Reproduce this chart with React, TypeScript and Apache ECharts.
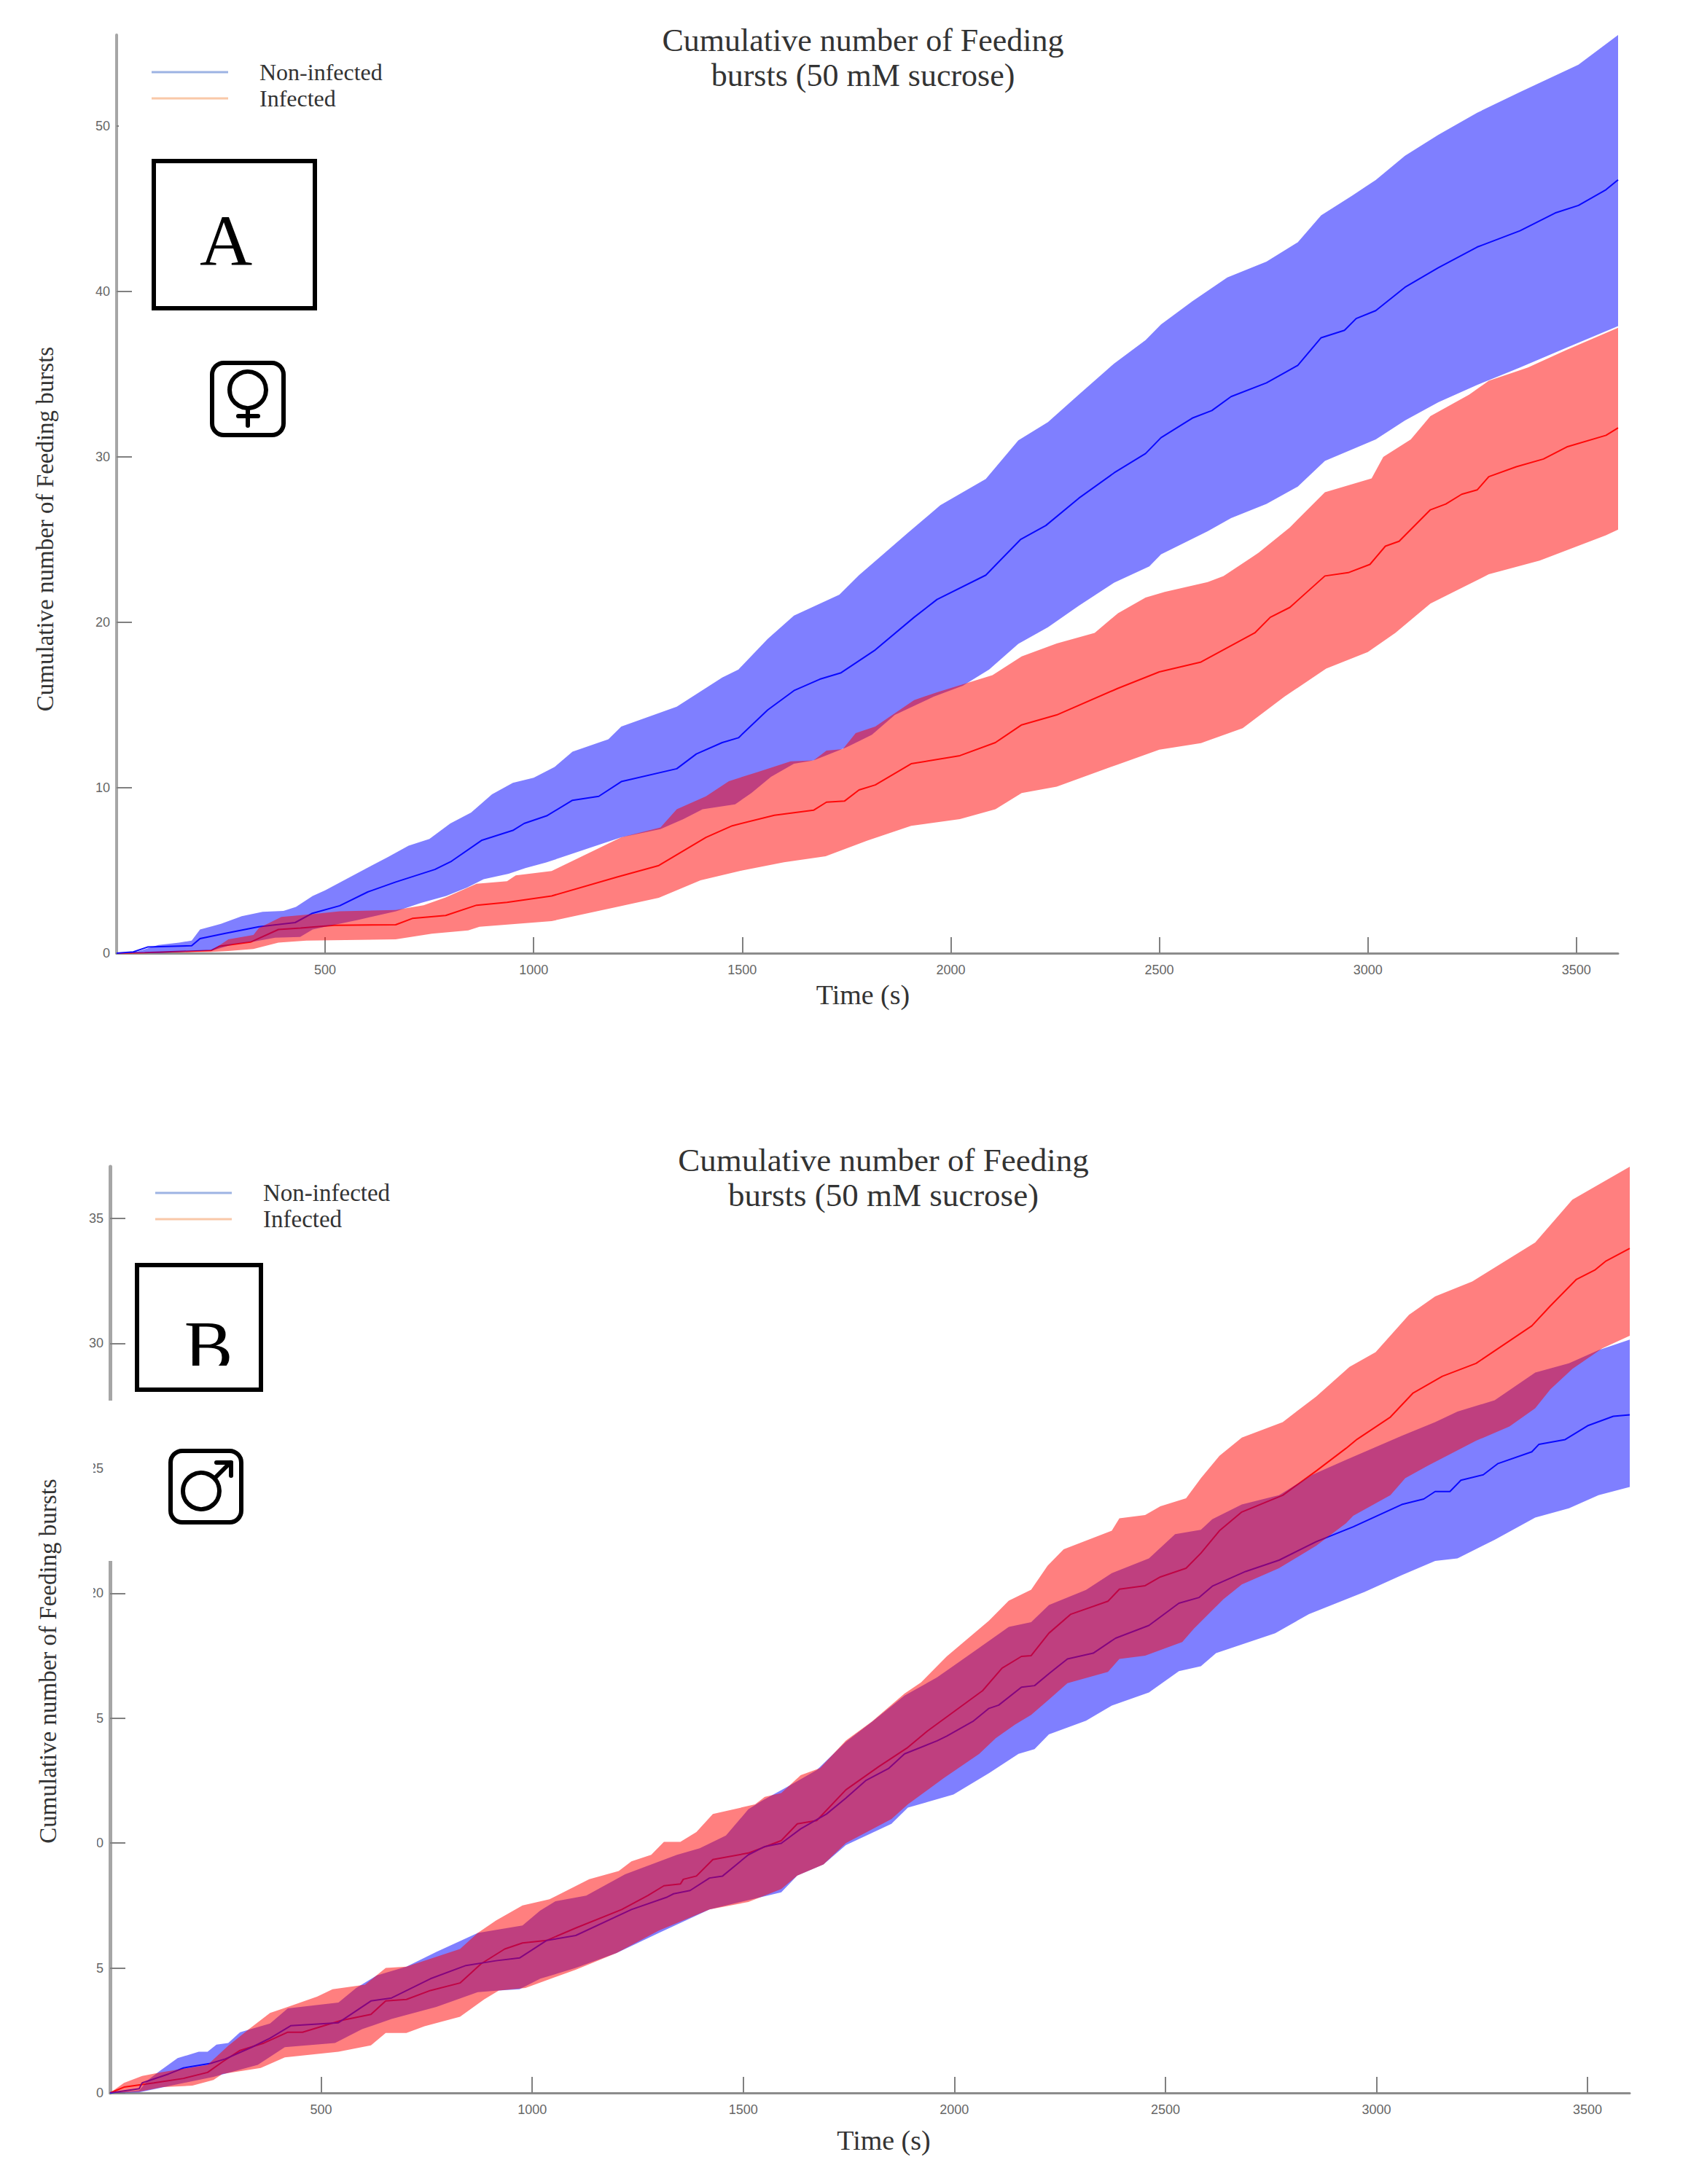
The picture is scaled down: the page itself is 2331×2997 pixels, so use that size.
import React, { useEffect, useRef } from "react";
import * as echarts from "echarts";

type P = [number, number];

const xTicks = [500, 1000, 1500, 2000, 2500, 3000, 3500];
const yTicksA = [0, 10, 20, 30, 40, 50];
const yTicksB = [0, 5, 10, 15, 20, 25, 30, 35];
const legendNames = ["Non-infected", "Infected"];
const titleText = "Cumulative number of Feeding\nbursts (50 mM sucrose)";
const yName = "Cumulative number of Feeding bursts";
const xName = "Time (s)";

const aBlueUpper: P[] = [[0,0],[50,.1],[100,.5],[150,.64],[180,.76],[200,1.43],[250,1.77],[300,2.24],[350,2.5],[400,2.56],[430,2.8],[470,3.46],[500,3.8],[550,4.47],[600,5.14],[650,5.8],[700,6.5],[750,6.9],[800,7.84],[850,8.5],[900,9.6],[950,10.3],[1000,10.6],[1050,11.25],[1093,12.18],[1179,12.93],[1210,13.7],[1343,14.9],[1452,16.66],[1491,17.15],[1561,19],[1624,20.4],[1733,21.67],[1780,22.85],[1897,25.4],[1975,27.08],[2084,28.66],[2162,31],[2233,32.1],[2307,33.76],[2392,35.65],[2467,37.06],[2504,38],[2579,39.4],[2663,40.84],[2757,41.8],[2832,42.97],[2888,44.6],[2963,45.8],[3019,46.74],[3089,48.2],[3169,49.46],[3262,50.8],[3365,52.05],[3505,53.7],[3600,55.5]];
const aBlueLower: P[] = [[0,0],[100,0],[200,.13],[230,.17],[280,.54],[330,.71],[380,.94],[440,.98],[470,1.43],[500,1.6],[580,2.02],[670,2.53],[730,3.04],[790,3.46],[840,3.96],[880,4.47],[940,4.8],[980,5.14],[1030,5.48],[1210,7],[1304,7.5],[1359,8.1],[1405,8.7],[1483,9],[1522,9.68],[1569,10.66],[1624,11.45],[1671,11.65],[1749,12.43],[1811,13.2],[1866,14.4],[1959,15.5],[2029,16.17],[2092,17.15],[2162,18.7],[2233,19.7],[2307,21],[2392,22.4],[2476,23.38],[2504,24.1],[2616,25.5],[2672,26.3],[2757,27.15],[2832,28.2],[2897,29.75],[3019,31.05],[3089,32.2],[3169,33.3],[3262,34.35],[3365,35.4],[3477,36.6],[3600,37.9]];
const aBlueMean: P[] = [[0,0],[40,.08],[74,.37],[180,.45],[200,.88],[261,1.2],[341,1.6],[428,1.85],[468,2.4],[535,2.87],[602,3.7],[669,4.3],[763,5.06],[803,5.56],[876,6.83],[950,7.42],[977,7.84],[1031,8.3],[1093,9.24],[1156,9.48],[1210,10.37],[1343,11.15],[1390,12.04],[1452,12.73],[1491,13.02],[1561,14.7],[1624,15.87],[1686,16.56],[1737,16.95],[1819,18.33],[1912,20.3],[1967,21.38],[2084,22.85],[2167,25],[2228,25.85],[2307,27.5],[2392,29.04],[2467,30.2],[2504,31.16],[2579,32.34],[2626,32.8],[2672,33.64],[2757,34.47],[2832,35.53],[2888,37.2],[2944,37.65],[2972,38.36],[3019,38.84],[3089,40.25],[3169,41.43],[3262,42.68],[3365,43.67],[3449,44.74],[3505,45.2],[3571,46.15],[3600,46.75]];
const aRedUpper: P[] = [[0,0],[200,.13],[230,.2],[268,.84],[328,1.1],[341,1.52],[395,2.19],[468,2.36],[535,2.53],[669,2.61],[736,2.9],[789,3.37],[863,4.2],[936,4.35],[957,4.7],[1043,4.97],[1210,7],[1304,7.6],[1343,8.7],[1413,9.48],[1468,10.4],[1538,10.96],[1616,11.6],[1671,11.65],[1702,12.25],[1741,12.33],[1772,13.3],[1819,13.7],[1912,15.3],[1967,15.77],[2100,16.8],[2170,17.94],[2254,18.72],[2345,19.36],[2401,20.55],[2467,21.5],[2513,21.84],[2616,22.43],[2654,22.8],[2738,24.2],[2813,25.74],[2897,27.86],[3009,28.7],[3037,30],[3103,31.05],[3150,32.46],[3243,33.76],[3290,34.6],[3384,35.4],[3477,36.47],[3600,37.8]];
const aRedLower: P[] = [[0,0],[227,.08],[268,.13],[328,.25],[388,.64],[455,.76],[669,.84],[756,1.18],[843,1.38],[870,1.6],[1043,1.94],[1200,2.8],[1300,3.35],[1400,4.4],[1500,5],[1600,5.5],[1700,5.86],[1800,6.8],[1905,7.7],[2022,8.1],[2107,8.7],[2170,9.68],[2254,10.07],[2400,11.4],[2500,12.3],[2600,12.7],[2700,13.6],[2800,15.5],[2900,17.2],[3000,18.2],[3066,19.36],[3150,21.13],[3225,22.08],[3290,22.9],[3412,23.73],[3571,25.26],[3600,25.6]];
const aRedMean: P[] = [[0,0],[67,.03],[227,.17],[247,.42],[321,.67],[388,1.43],[441,1.52],[522,1.69],[669,1.72],[709,2.1],[789,2.28],[863,2.9],[936,3.07],[1043,3.46],[1200,4.6],[1300,5.3],[1413,7],[1476,7.7],[1577,8.34],[1671,8.64],[1702,9.13],[1745,9.19],[1780,9.87],[1819,10.17],[1905,11.45],[2022,11.94],[2107,12.73],[2170,13.8],[2254,14.4],[2400,16],[2500,17],[2600,17.6],[2729,19.36],[2766,20.3],[2813,20.9],[2897,22.8],[2953,23],[3005,23.5],[3042,24.6],[3075,24.9],[3150,26.8],[3187,27.15],[3225,27.74],[3262,28],[3290,28.8],[3356,29.4],[3421,29.87],[3477,30.6],[3571,31.3],[3600,31.75]];

const bBlueUpper: P[] = [[0,0],[69,.1],[90,.52],[118,.88],[160,1.39],[210,1.65],[231,1.65],[252,1.93],[280,2],[308,2.43],[379,2.78],[421,3.38],[541,3.62],[583,4.2],[632,4.7],[702,5.05],[773,5.64],[871,6.4],[977,6.7],[1019,7.3],[1055,7.67],[1128,7.9],[1220,8.75],[1343,9.53],[1397,9.79],[1459,10.3],[1512,11.35],[1543,11.68],[1605,12.26],[1674,12.92],[1743,14.05],[1805,14.85],[1882,15.9],[1959,16.63],[2052,17.73],[2129,18.65],[2182,18.84],[2224,19.53],[2312,20.13],[2373,20.8],[2461,21.39],[2523,22.36],[2584,22.54],[2611,22.96],[2681,23.55],[2769,23.92],[2848,24.74],[2928,25.34],[3060,26.3],[3139,26.85],[3192,27.27],[3280,27.72],[3376,28.83],[3456,29.2],[3526,29.73],[3600,30.15]];
const bBlueLower: P[] = [[0,0],[69,.02],[175,.4],[245,.64],[350,1.12],[414,1.83],[533,2],[597,2.55],[667,2.96],[773,3.44],[871,4.03],[921,4.1],[970,4.15],[1019,4.57],[1103,5],[1200,5.6],[1300,6.4],[1420,7.34],[1543,7.84],[1590,8.03],[1628,8.7],[1690,9.14],[1743,9.92],[1851,10.77],[1890,11.42],[1998,11.94],[2082,12.8],[2152,13.57],[2190,13.76],[2224,14.35],[2312,14.9],[2373,15.5],[2461,16.03],[2532,16.88],[2584,17.08],[2620,17.6],[2760,18.4],[2840,19.16],[2972,20.05],[3060,20.72],[3139,21.29],[3192,21.39],[3280,22.14],[3376,23.03],[3456,23.4],[3526,23.92],[3600,24.25]];
const bBlueMean: P[] = [[0,0],[69,.17],[76,.4],[139,.76],[174,1],[238,1.18],[273,1.36],[336,1.83],[379,2.19],[428,2.69],[541,2.81],[618,3.68],[667,3.8],[759,4.57],[843,5.1],[914,5.29],[970,5.4],[1034,6.1],[1103,6.3],[1235,7.34],[1320,7.84],[1335,7.97],[1374,8.1],[1420,8.6],[1451,8.68],[1512,9.53],[1551,9.86],[1590,9.99],[1636,10.57],[1697,11.16],[1743,11.8],[1790,12.5],[1844,12.98],[1882,13.57],[1959,14.09],[1982,14.28],[2044,14.87],[2082,15.39],[2105,15.52],[2159,16.24],[2190,16.3],[2224,16.78],[2268,17.37],[2329,17.6],[2382,18.2],[2461,18.71],[2532,19.6],[2580,19.83],[2611,20.28],[2690,20.87],[2769,21.32],[2857,22.06],[2945,22.66],[3060,23.55],[3112,23.77],[3139,24.07],[3174,24.07],[3200,24.52],[3253,24.74],[3288,25.19],[3368,25.66],[3385,25.96],[3447,26.15],[3500,26.7],[3561,27.08],[3600,27.14]];
const bRedUpper: P[] = [[0,0],[33,.4],[76,.68],[118,.82],[231,1.12],[280,1.89],[329,2.55],[379,3.2],[421,3.44],[491,3.86],[527,4.15],[604,4.33],[653,5],[702,5.05],[829,5.76],[871,6.4],[914,6.9],[977,7.5],[1041,7.75],[1135,8.55],[1205,8.88],[1235,9.27],[1282,9.53],[1312,10.05],[1351,10.05],[1389,10.44],[1428,11.16],[1528,11.55],[1551,11.85],[1590,12],[1636,12.72],[1682,13],[1743,14.1],[1805,14.87],[1882,15.98],[1921,16.43],[1982,17.47],[2082,18.9],[2129,19.7],[2182,20.14],[2221,21.1],[2259,21.76],[2373,22.5],[2391,23],[2452,23.13],[2488,23.48],[2549,23.8],[2584,24.6],[2628,25.5],[2681,26.23],[2778,26.85],[2857,27.87],[2936,29.06],[2998,29.65],[3077,31.14],[3139,31.88],[3227,32.48],[3376,34.04],[3464,35.75],[3600,37.07]];
const bRedLower: P[] = [[0,0],[69,.05],[125,.23],[195,.29],[245,.52],[266,.76],[357,1],[414,1.42],[541,1.65],[618,1.9],[653,2.4],[702,2.4],[745,2.67],[829,3.05],[886,3.74],[921,4.1],[984,4.2],[1103,4.93],[1200,5.6],[1300,6.5],[1420,7.34],[1512,7.64],[1590,8.16],[1628,8.7],[1690,9.14],[1743,10],[1851,10.96],[1890,11.55],[1975,12.6],[2059,13.57],[2098,14.2],[2144,14.74],[2182,15.13],[2224,15.74],[2268,16.4],[2364,16.85],[2391,17.37],[2452,17.5],[2540,18.05],[2567,18.57],[2637,19.75],[2681,20.35],[2769,21],[2857,21.9],[2928,22.8],[2945,23.1],[3033,23.92],[3068,24.6],[3121,25.1],[3236,26.1],[3315,26.67],[3376,27.4],[3412,28.16],[3464,28.98],[3535,29.8],[3600,30.3]];
const bRedMean: P[] = [[0,0],[33,.23],[104,.4],[174,.58],[231,.82],[266,1.24],[308,1.7],[365,2],[421,2.43],[456,2.43],[548,2.9],[618,3.14],[653,3.68],[702,3.74],[759,4.1],[829,4.4],[879,5.17],[935,5.76],[977,6],[1034,6.1],[1103,6.6],[1212,7.34],[1274,7.9],[1312,8.29],[1351,8.36],[1358,8.55],[1389,8.68],[1428,9.34],[1512,9.6],[1590,10.1],[1628,10.77],[1674,10.9],[1743,12.13],[1820,13.05],[1890,13.83],[1936,14.48],[2067,16.1],[2113,17],[2159,17.47],[2182,17.5],[2224,18.4],[2276,19.16],[2364,19.68],[2391,20.16],[2452,20.3],[2488,20.65],[2549,21],[2584,21.6],[2628,22.5],[2681,23.25],[2778,23.92],[2857,24.89],[2928,25.8],[2954,26.16],[3033,27.05],[3086,28],[3156,28.68],[3236,29.2],[3368,30.7],[3412,31.5],[3473,32.55],[3517,32.93],[3544,33.3],[3600,33.8]];

const BLUE_FILL = "rgba(0,0,255,0.5)";
const RED_FILL = "rgba(255,0,0,0.5)";
const SERIF = "'Liberation Serif', serif";
const SANS = "'Liberation Sans', sans-serif";
const plain = (v: number) => String(v);

const band = (idx: number, upper: P[], lower: P[], fill: string, z: number) => {
  const pts = upper.concat([...lower].reverse());
  return {
    type: "custom",
    xAxisIndex: idx,
    yAxisIndex: idx,
    z,
    silent: true,
    data: pts,
    encode: { x: 0, y: 1 },
    renderItem: (params: any, api: any) =>
      params.dataIndex === 0
        ? { type: "polygon", shape: { points: pts.map((p) => api.coord(p)) }, style: { fill } }
        : null,
  };
};

const line = (idx: number, name: string, data: P[], color: string, z: number) => ({
  type: "line",
  name,
  xAxisIndex: idx,
  yAxisIndex: idx,
  z,
  data,
  showSymbol: false,
  silent: true,
  lineStyle: { color, width: 2 },
  itemStyle: { color },
});

const xAxis = (idx: number, gap: number, pad: number[]) => ({
  type: "value",
  gridIndex: idx,
  min: 0,
  max: 3600,
  name: xName,
  nameLocation: "middle",
  nameGap: gap,
  nameTextStyle: { fontFamily: SERIF, fontSize: 38, color: "#333", padding: pad },
  splitLine: { show: false },
  axisLine: { lineStyle: { color: "#8c8c8c", width: 3 } },
  axisTick: { inside: true, length: 22, customValues: xTicks, lineStyle: { color: "#808080", width: 2 } },
  axisLabel: { customValues: xTicks, formatter: plain, fontFamily: SANS, fontSize: 18, color: "#666", margin: 14 },
});

const yAxis = (idx: number, max: number, ticks: number[], gap: number, shift: number, w: number, drop: number) => ({
  type: "value",
  gridIndex: idx,
  min: 0,
  max,
  name: yName,
  nameLocation: "middle",
  nameGap: gap,
  nameTextStyle: { fontFamily: SERIF, fontSize: 33, color: "#333", padding: [0, shift, 0, 0] },
  splitLine: { show: false },
  axisLine: { lineStyle: { color: "#a6a6a6", width: w } },
  axisTick: { inside: true, length: 21, customValues: ticks, lineStyle: { color: "#808080", width: 2 } },
  axisLabel: { customValues: ticks, formatter: plain, fontFamily: SANS, fontSize: 18, color: "#666", margin: 9, padding: [drop, 0, 0, 0] },
});

const legend = (left: number, top: number, fontSize: number) => ({
  orient: "vertical",
  left,
  top,
  padding: 0,
  itemWidth: 105,
  itemHeight: 3,
  itemGap: 0,
  icon: "rect",
  selectedMode: false,
  textStyle: { fontFamily: SERIF, fontSize, color: "#333", lineHeight: 36, padding: [0, 0, 0, 38] },
  data: [
    { name: legendNames[0], itemStyle: { color: "#9db3e3" } },
    { name: legendNames[1], itemStyle: { color: "#f9c8a8" } },
  ],
});

const title = (left: number, top: number, fontSize: number) => ({
  text: titleText,
  left,
  top,
  textAlign: "center",
  textStyle: { fontFamily: SERIF, fontSize, fontWeight: "normal", color: "#333", lineHeight: 48 },
});

const Z = 100;
const white = (x: number, y: number, width: number, height: number) => ({
  type: "rect", z: Z, shape: { x, y, width, height }, style: { fill: "#fff" },
});
const frame = (x: number, y: number, width: number, height: number, r = 0) => ({
  type: "rect", z: Z + 1, shape: { x, y, width, height, r }, style: { fill: "#fff", stroke: "#000", lineWidth: 6 },
});
const stroke = (x1: number, y1: number, x2: number, y2: number) => ({
  type: "line", z: Z + 2, shape: { x1, y1, x2, y2 }, style: { stroke: "#000", lineWidth: 6, lineCap: "round" },
});
const ring = (cx: number, cy: number, r: number) => ({
  type: "circle", z: Z + 2, shape: { cx, cy, r }, style: { fill: "none", stroke: "#000", lineWidth: 6 },
});
const letter = (text: string, x: number, y: number) => ({
  type: "text", z: Z + 2, x, y,
  style: { text, font: `100px ${SERIF}`, fill: "#000", textAlign: "center", textVerticalAlign: "bottom" },
});

const graphicElements = [
  white(163, 165, 24, 18),
  frame(211, 221, 221, 202),
  letter("A", 310, 380),
  frame(291, 498, 98, 99, 16),
  ring(340, 535, 25),
  stroke(340, 561, 340, 584),
  stroke(327, 571, 354, 571),

  white(144, 1922, 44, 220),
  white(90, 1930, 38, 270),
  white(90, 2200, 43, 500),
  frame(188, 1736, 170, 171),
  letter("B", 286, 1897),
  { type: "rect", z: Z + 3, shape: { x: 240, y: 1874, width: 90, height: 28 }, style: { fill: "#fff" } },
  frame(234, 1991, 97, 98, 16),
  ring(276, 2046, 25),
  stroke(296, 2027, 316, 2007),
  stroke(297, 2007, 317, 2007),
  stroke(317, 2007, 317, 2025),
];

const option: any = {
  animation: false,
  backgroundColor: "#fff",
  title: [title(1179, 26, 44), title(1207, 1563, 45)],
  legend: [legend(208, 81, 32), legend(213, 1619, 33)],
  grid: [
    { left: 160, top: 48, width: 2060, height: 1260 },
    { left: 151, top: 1601, width: 2085, height: 1271 },
  ],
  xAxis: [xAxis(0, 38, [0, 12, 0, 0]), xAxis(1, 46, [0, 0, 0, 38])],
  yAxis: [yAxis(0, 55.5, yTicksA, 82, 96, 4, 5), yAxis(1, 37.07, yTicksB, 69, 86, 5, 2)],
  series: [
    line(0, legendNames[1], aRedMean, "#ff1010", 2),
    line(0, legendNames[0], aBlueMean, "#1010ff", 3),
    band(0, aBlueUpper, aBlueLower, BLUE_FILL, 4),
    band(0, aRedUpper, aRedLower, RED_FILL, 5),
    line(1, legendNames[1], bRedMean, "#ff1010", 2),
    line(1, legendNames[0], bBlueMean, "#1010ff", 3),
    band(1, bBlueUpper, bBlueLower, BLUE_FILL, 4),
    band(1, bRedUpper, bRedLower, RED_FILL, 5),
  ],
  graphic: { elements: graphicElements },
};

export default function App() {
  const ref = useRef<HTMLDivElement>(null);
  useEffect(() => {
    const chart = echarts.init(ref.current!, undefined, { renderer: "svg" });
    chart.setOption(option);
    return () => chart.dispose();
  }, []);
  return <div ref={ref} style={{ position: "absolute", left: 0, top: 0, width: 2331, height: 2997 }} />;
}
